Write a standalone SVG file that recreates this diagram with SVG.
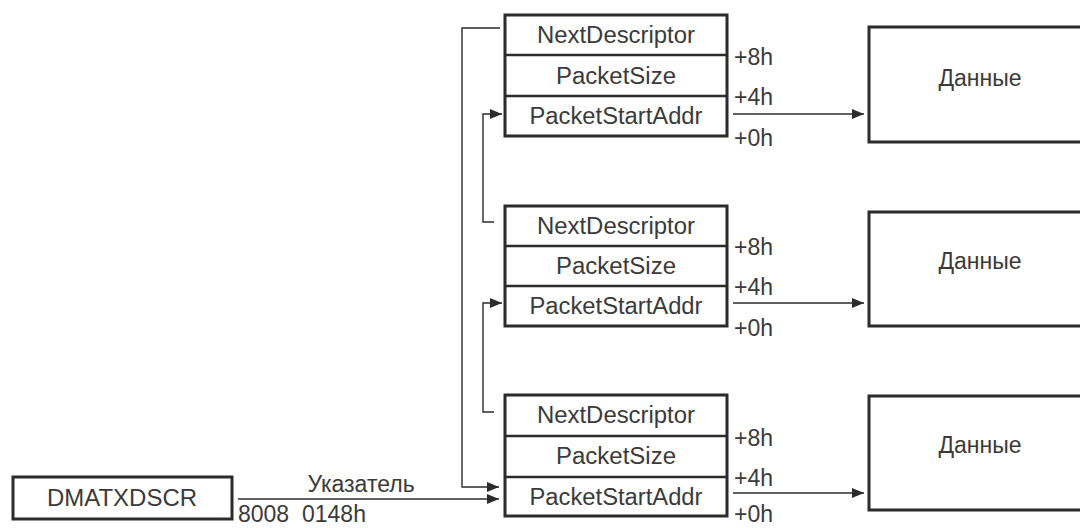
<svg xmlns="http://www.w3.org/2000/svg" width="1080" height="528" viewBox="0 0 1080 528">
<style>
.box{fill:#fff;stroke:#2b2b2b;stroke-width:3}
.div{stroke:#2b2b2b;stroke-width:2.5}
.ln{fill:none;stroke:#2b2b2b;stroke-width:1.4}
text{font-family:"Liberation Sans",Arial,sans-serif;font-size:23px;fill:#3a3a3a}
.c{text-anchor:middle}
</style>
<defs>
<marker id="ah" markerUnits="userSpaceOnUse" markerWidth="12" markerHeight="10" refX="12" refY="5" orient="auto">
<path d="M0,0 L12,5 L0,10 Z" fill="#2b2b2b"/>
</marker>
</defs>
<rect width="1080" height="528" fill="#fff"/>

<g id="dmatxdscr">
<rect class="box" x="13" y="477" width="219" height="42"/>
<text class="c" x="122" y="506" textLength="150" lengthAdjust="spacingAndGlyphs">DMATXDSCR</text>
</g>

<g id="desc1">
<rect class="box" x="505" y="15" width="222" height="121"/>
<line class="div" x1="505" y1="55" x2="727" y2="55"/>
<line class="div" x1="505" y1="96" x2="727" y2="96"/>
<text class="c" x="616" y="43" textLength="158" lengthAdjust="spacingAndGlyphs">NextDescriptor</text>
<text class="c" x="616" y="84" textLength="120" lengthAdjust="spacingAndGlyphs">PacketSize</text>
<text class="c" x="616" y="124" textLength="173" lengthAdjust="spacingAndGlyphs">PacketStartAddr</text>
<text x="734" y="65">+8h</text>
<text x="734" y="105">+4h</text>
<text x="734" y="146">+0h</text>
</g>

<g id="desc2">
<rect class="box" x="505" y="206" width="222" height="120"/>
<line class="div" x1="505" y1="246" x2="727" y2="246"/>
<line class="div" x1="505" y1="286" x2="727" y2="286"/>
<text class="c" x="616" y="234" textLength="158" lengthAdjust="spacingAndGlyphs">NextDescriptor</text>
<text class="c" x="616" y="274" textLength="120" lengthAdjust="spacingAndGlyphs">PacketSize</text>
<text class="c" x="616" y="314" textLength="173" lengthAdjust="spacingAndGlyphs">PacketStartAddr</text>
<text x="734" y="255">+8h</text>
<text x="734" y="295">+4h</text>
<text x="734" y="336">+0h</text>
</g>

<g id="desc3">
<rect class="box" x="505" y="395" width="222" height="121"/>
<line class="div" x1="505" y1="436" x2="727" y2="436"/>
<line class="div" x1="505" y1="477" x2="727" y2="477"/>
<text class="c" x="616" y="423" textLength="158" lengthAdjust="spacingAndGlyphs">NextDescriptor</text>
<text class="c" x="616" y="464" textLength="120" lengthAdjust="spacingAndGlyphs">PacketSize</text>
<text class="c" x="616" y="505" textLength="173" lengthAdjust="spacingAndGlyphs">PacketStartAddr</text>
<text x="734" y="446">+8h</text>
<text x="734" y="486">+4h</text>
<text x="734" y="522">+0h</text>
</g>

<g id="data1">
<rect class="box" x="869" y="27" width="230" height="115"/>
<text class="c" x="980" y="86">Данные</text>
</g>
<g id="data2">
<rect class="box" x="869" y="212" width="230" height="114"/>
<text class="c" x="980" y="269">Данные</text>
</g>
<g id="data3">
<rect class="box" x="869" y="396" width="230" height="114"/>
<text class="c" x="980" y="453">Данные</text>
</g>

<g id="connectors">
<path class="ln" d="M500,28 H462 V487 H499" marker-end="url(#ah)"/>
<path class="ln" d="M494,222 H483 V114 H502" marker-end="url(#ah)"/>
<path class="ln" d="M494,412 H483 V303 H502" marker-end="url(#ah)"/>
<line class="ln" x1="238" y1="499" x2="499" y2="499" marker-end="url(#ah)"/>
<line class="ln" x1="733" y1="114" x2="864" y2="114" marker-end="url(#ah)"/>
<line class="ln" x1="733" y1="303" x2="864" y2="303" marker-end="url(#ah)"/>
<line class="ln" x1="733" y1="493" x2="864" y2="493" marker-end="url(#ah)"/>
<text class="c" x="361" y="492">Указатель</text>
<text x="238" y="522">8008 <tspan x="302">0148h</tspan></text>
</g>
</svg>
